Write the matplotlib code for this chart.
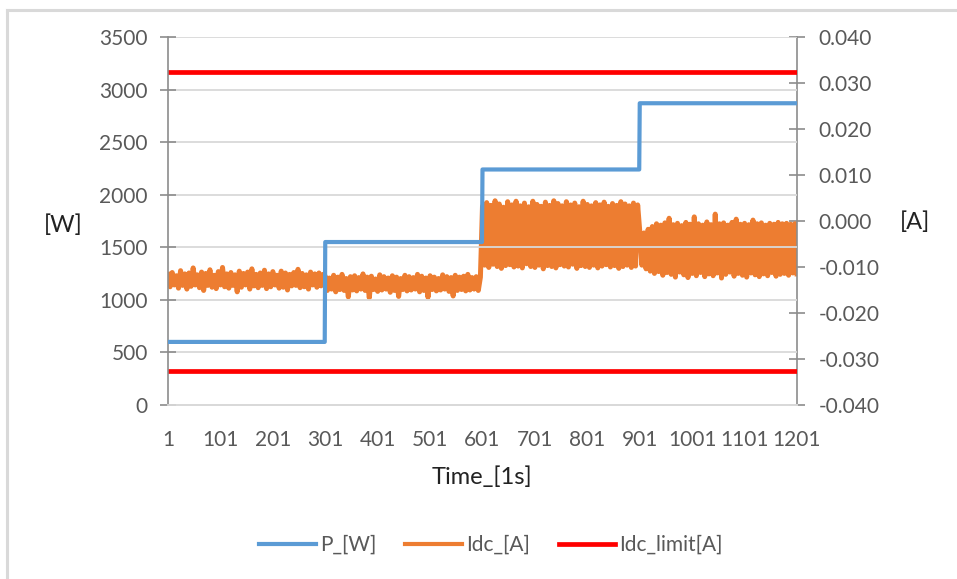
import numpy as np
import matplotlib
matplotlib.use('Agg')
import matplotlib.pyplot as plt
from matplotlib.lines import Line2D

plt.rcParams['font.family'] = ['Lato', 'DejaVu Sans']

# P_[W] step profile (time s, watt)
p_time = [1, 300, 301, 600, 601, 900, 901, 1201]
p_watt = [600, 600, 1550, 1550, 2240, 2240, 2870, 2870]

# Idc_[A], every 4 s, in mA, one list per load step
seg_start = [1, 301, 601, 901]
idc_seg1 = [-11.6, -14.3, -11.2, -13.9, -11.9, -14.6, -10.8, -14.0, -11.5, -14.8, -11.3, -14.2, -10.2, -13.9, -11.7,
            -14.5, -11.1, -15.1, -11.4, -14.0, -10.6, -14.4, -11.8, -14.7, -11.0, -13.9, -10.1, -14.3, -11.5, -14.6,
            -11.2, -14.0, -11.7, -15.4, -10.9, -14.4, -11.4, -13.9, -11.1, -14.8, -10.4, -14.1, -11.6, -14.5, -11.3,
            -14.0, -10.7, -14.7, -11.5, -14.3, -11.0, -13.9, -11.8, -14.6, -10.9, -14.4, -11.3, -15.0, -11.6, -14.1,
            -11.2, -14.0, -10.5, -14.5, -11.4, -14.3, -11.7, -14.8, -11.1, -13.9, -11.5, -14.4, -11.3, -14.1, -11.6]
idc_seg2 = [-12.0, -15.1, -12.4, -14.8, -11.8, -15.4, -12.2, -14.9, -11.6, -15.1, -12.5, -16.5, -12.1, -15.0, -11.9,
            -15.2, -12.3, -14.8, -11.5, -15.1, -12.2, -16.7, -12.0, -14.9, -12.6, -15.3, -11.7, -15.0, -12.1, -14.8,
            -12.4, -15.5, -11.9, -15.1, -12.2, -16.4, -12.5, -14.9, -11.8, -15.2, -12.1, -15.0, -12.3, -14.8, -11.6,
            -15.4, -12.0, -15.1, -12.4, -16.6, -11.9, -14.9, -12.2, -15.2, -12.5, -15.0, -11.7, -14.8, -12.1, -15.3,
            -12.3, -16.3, -11.8, -15.1, -12.2, -14.9, -12.0, -15.2, -11.6, -15.0, -12.3, -14.8, -12.1, -15.1, -12.2]
idc_seg3 = [3.2, -9.6, 4.0, -10.1, 3.4, -9.4, 4.4, -9.9, 3.7, -10.3, 3.0, -9.7, 4.2, -9.5, 3.5, -10.0, 4.3, -9.8,
            3.3, -10.2, 3.9, -9.3, 3.1, -9.9, 4.3, -10.1, 3.6, -9.6, 3.2, -10.4, 4.1, -9.7, 3.4, -9.9, 4.4, -10.2,
            3.8, -9.5, 3.3, -9.8, 4.2, -10.0, 3.5, -9.4, 3.9, -10.3, 3.1, -9.7, 4.3, -9.9, 3.6, -10.1, 3.3, -9.6,
            4.0, -10.2, 3.5, -9.8, 4.1, -9.5, 3.2, -10.0, 3.8, -9.7, 3.4, -10.3, 4.2, -9.9, 3.7, -9.6, 3.3, -10.1,
            3.9, -9.8, 3.5]
idc_seg4 = [-2.2, -9.6, -2.6, -10.4, -1.8, -10.9, -1.2, -11.4, -0.6, -11.0, -0.9, -11.8, -0.4, -11.2, 0.6, -11.6,
            -0.8, -12.2, -0.5, -11.1, -1.0, -11.7, -0.3, -12.3, -0.7, -11.4, 0.9, -11.9, -0.6, -11.2, -0.9, -12.1,
            -0.2, -11.5, -0.8, -11.9, 1.5, -11.3, -0.6, -12.4, -0.4, -11.6, -0.9, -11.1, -0.3, -12.0, 0.4, -11.4,
            -0.7, -11.8, -0.5, -12.2, -0.8, -11.3, 0.2, -11.7, -0.6, -12.1, -0.4, -11.5, -0.9, -11.9, -0.5, -11.2,
            -0.7, -12.0, -0.3, -11.6, -0.6, -11.4, -0.5, -11.8, -0.7, -11.3, -0.6, -11.5]

# Idc_limit[A]
idc_limit = [0.0325, -0.0325]

x_ticks = [1, 101, 201, 301, 401, 501, 601, 701, 801, 901, 1001, 1101, 1201]
w_ticks = [0, 500, 1000, 1500, 2000, 2500, 3000, 3500]
a_ticks = [-0.04, -0.03, -0.02, -0.01, 0.0, 0.01, 0.02, 0.03, 0.04]

c_blue = '#5B9BD5'
c_orange = '#ED7D31'
c_red = '#FF0000'
c_text = '#595959'
c_axis = '#8C8C8C'
c_grid = '#D9D9D9'

# build Idc time axis from the per-segment lists
idc_time, idc_val = [], []
for start, seg in zip(seg_start, [idc_seg1, idc_seg2, idc_seg3, idc_seg4]):
    idc_time += [start + 4 * i for i in range(len(seg))]
    idc_val += [v / 1000.0 for v in seg]

fig = plt.figure(figsize=(9.57, 5.79), dpi=100)
ax = fig.add_axes([168 / 957, 1 - 405 / 579, 629 / 957, 368 / 579])
ax2 = ax.twinx()

# left axis: power
ax.set_xlim(1, 1201)
ax.set_ylim(0, 3500)
ax.set_yticks(w_ticks)
ax.set_xticks(x_ticks)
ax.grid(axis='y', color=c_grid, linewidth=1.3)
ax.set_axisbelow(True)

# right axis: current
ax2.set_ylim(-0.04, 0.04)
ax2.set_yticks(a_ticks)
ax2.set_yticklabels([f'{v:.3f}' for v in a_ticks])

ax2.plot(idc_time, idc_val, color=c_orange, linewidth=3.6, solid_joinstyle='round', zorder=2)
ax2.axhline(idc_limit[0], color=c_red, linewidth=3.4, zorder=3)
ax2.axhline(idc_limit[1], color=c_red, linewidth=3.4, zorder=3)
ax.plot(p_time, p_watt, color=c_blue, linewidth=3.0, zorder=3)
# blue line drawn on top of orange
ax.set_zorder(ax2.get_zorder() + 1)
ax.patch.set_visible(False)

for a in (ax, ax2):
    a.spines['top'].set_visible(False)
    a.spines['bottom'].set_color(c_grid)
    a.spines['bottom'].set_linewidth(1.3)
    a.spines['left'].set_color(c_axis)
    a.spines['right'].set_color(c_axis)
    a.spines['left'].set_linewidth(1.2)
    a.spines['right'].set_linewidth(1.2)
ax.spines['right'].set_visible(False)
ax2.spines['left'].set_visible(False)

ax.tick_params(axis='x', length=0, pad=18, labelsize=15, labelcolor=c_text)
ax.tick_params(axis='y', direction='inout', length=11, width=1.2, color=c_axis, pad=9,
               labelsize=15, labelcolor=c_text)
ax2.tick_params(axis='y', direction='inout', length=11, width=1.2, color=c_axis, pad=10,
                labelsize=15, labelcolor=c_text)

ax.set_xlabel('Time_[1s]', fontsize=17, color='#222222', va='center')
ax.xaxis.set_label_coords((482 - 168) / 629, (405 - 477) / 368)
ax.set_ylabel('[W]', fontsize=17, color='#222222', rotation=0, va='center', ha='center')
ax.yaxis.set_label_coords((63 - 168) / 629, (405 - 225) / 368)
ax2.set_ylabel('[A]', fontsize=17, color='#222222', rotation=0, va='center', ha='center')
ax2.yaxis.set_label_coords((915 - 168) / 629, (405 - 222) / 368)

handles = [Line2D([], [], color=c_blue, linewidth=3.0),
           Line2D([], [], color=c_orange, linewidth=3.0),
           Line2D([], [], color=c_red, linewidth=3.4)]
leg = fig.legend(handles, ['P_[W]', 'Idc_[A]', 'Idc_limit[A]'], loc='center', ncol=3,
                 bbox_to_anchor=(491 / 957, 1 - 545 / 579), frameon=False, fontsize=15,
                 handlelength=2.7, handletextpad=0.2, columnspacing=1.4)
for t in leg.get_texts():
    t.set_color(c_text)

# chart border (only top and left edges are inside the crop)
fig.add_artist(Line2D([7.5 / 957, 7.5 / 957], [0, 1 - 9.5 / 579], color=c_grid, linewidth=2.2,
                      transform=fig.transFigure))
fig.add_artist(Line2D([7.5 / 957, 1], [1 - 9.5 / 579, 1 - 9.5 / 579], color=c_grid, linewidth=2.2,
                      transform=fig.transFigure))

fig.savefig('out.png', dpi=100)
